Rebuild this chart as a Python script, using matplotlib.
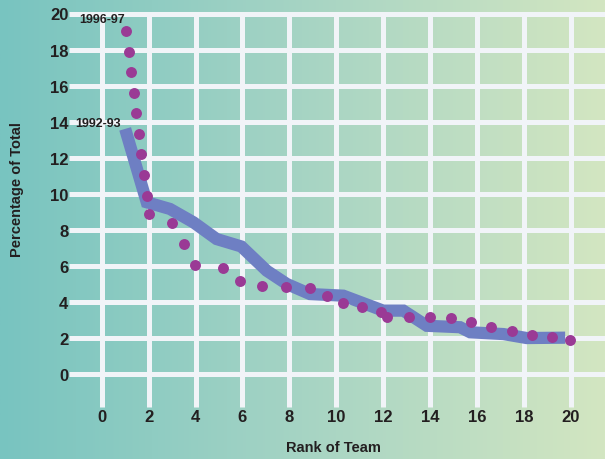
import matplotlib
matplotlib.use("Agg")
import matplotlib.pyplot as plt
import numpy as np
from matplotlib.colors import LinearSegmentedColormap

plt.rcParams["font.family"] = ["Liberation Sans", "DejaVu Sans"]
plt.rcParams["font.weight"] = "bold"

# 1992-93 season: share of total by team rank (thick blue line)
rank_9293 = [1.0, 1.92, 2.91, 3.91, 4.9, 5.95, 7.04, 7.89, 8.88, 10.3,
             12.0, 12.86, 13.86, 15.28, 15.71, 17.13, 18.12, 19.76]
pct_9293 = [13.6, 9.53, 9.16, 8.42, 7.49, 7.08, 5.73, 5.0, 4.44, 4.35,
            3.52, 3.52, 2.68, 2.6, 2.32, 2.22, 2.0, 2.02]

# 1996-97 season: dotted trace
rank_9697 = [1.02, 1.15, 1.26, 1.36, 1.46, 1.58, 1.69, 1.79, 1.92, 2.02,
             2.99, 3.51, 3.98, 5.19, 5.90, 6.82, 7.86, 8.88, 9.59, 10.28,
             11.11, 11.90, 12.18, 13.10, 14.01, 14.90, 15.76, 16.61, 17.48,
             18.34, 19.19, 19.97]
pct_9697 = [19.01, 17.88, 16.76, 15.61, 14.46, 13.33, 12.21, 11.04, 9.89, 8.90,
            8.36, 7.22, 6.07, 5.87, 5.16, 4.90, 4.85, 4.78, 4.35, 3.94,
            3.74, 3.45, 3.18, 3.15, 3.15, 3.11, 2.87, 2.63, 2.37,
            2.19, 2.04, 1.91]

x_ticks = list(range(0, 21, 2))
y_ticks = list(range(0, 21, 2))

text_color = "#231f20"
grid_color = "#f1f4f8"

fig = plt.figure(figsize=(6.05, 4.6), dpi=100)

# horizontal teal -> pale green background
bg = fig.add_axes([0, 0, 1, 1], zorder=0)
cmap = LinearSegmentedColormap.from_list("bg", ["#78c4c0", "#a6d4c4", "#d3e6c1"])
bg.imshow(np.linspace(0, 1, 256)[None, :], aspect="auto", cmap=cmap,
          extent=[0, 1, 0, 1])
bg.axis("off")

left, right = 101.7 / 605, 570.8 / 605
bottom, top = (460 - 375.1) / 460, (460 - 14.5) / 460
ax = fig.add_axes([left, bottom, right - left, top - bottom], zorder=1)
ax.set_facecolor("none")
ax.set_xlim(0, 20)
ax.set_ylim(0, 20)
for spine in ax.spines.values():
    spine.set_visible(False)

# grid: horizontal lines run left past the axis, verticals drop below zero
ax.hlines(y_ticks, -1.41, 21.5, color=grid_color, lw=3.6, clip_on=False, zorder=1)
ax.vlines(x_ticks, -1.84, 20.1, color=grid_color, lw=3.6, clip_on=False, zorder=1)

ax.plot(rank_9293, pct_9293, color="#6e7fc3", lw=8.8, solid_capstyle="butt",
        solid_joinstyle="miter", clip_on=False, zorder=2)
ax.scatter(rank_9697, pct_9697, s=62, color="#9a3a95", linewidths=0,
           clip_on=False, zorder=3)

ax.text(0.0, 19.69, "1996-97", ha="center", va="center", fontsize=9,
        color=text_color, zorder=4)
ax.text(-0.16, 13.9, "1992-93", ha="center", va="center", fontsize=9,
        color=text_color, zorder=4)

ax.set_xticks(x_ticks)
ax.set_yticks(y_ticks)
ax.set_xticklabels([str(v) for v in x_ticks], fontsize=12, color=text_color)
ax.set_yticklabels([str(v) for v in y_ticks], fontsize=12, color=text_color)
ax.tick_params(axis="x", length=0, pad=25)
ax.tick_params(axis="y", length=0, pad=24)

fig.text(17 / 605, 1 - 190 / 460, "Percentage of Total", rotation=90,
         ha="center", va="center", fontsize=10.5, color=text_color)
fig.text(333 / 605, 1 - 448 / 460, "Rank of Team", ha="center", va="center",
         fontsize=10.5, color=text_color)

fig.savefig("out.png", dpi=100)
